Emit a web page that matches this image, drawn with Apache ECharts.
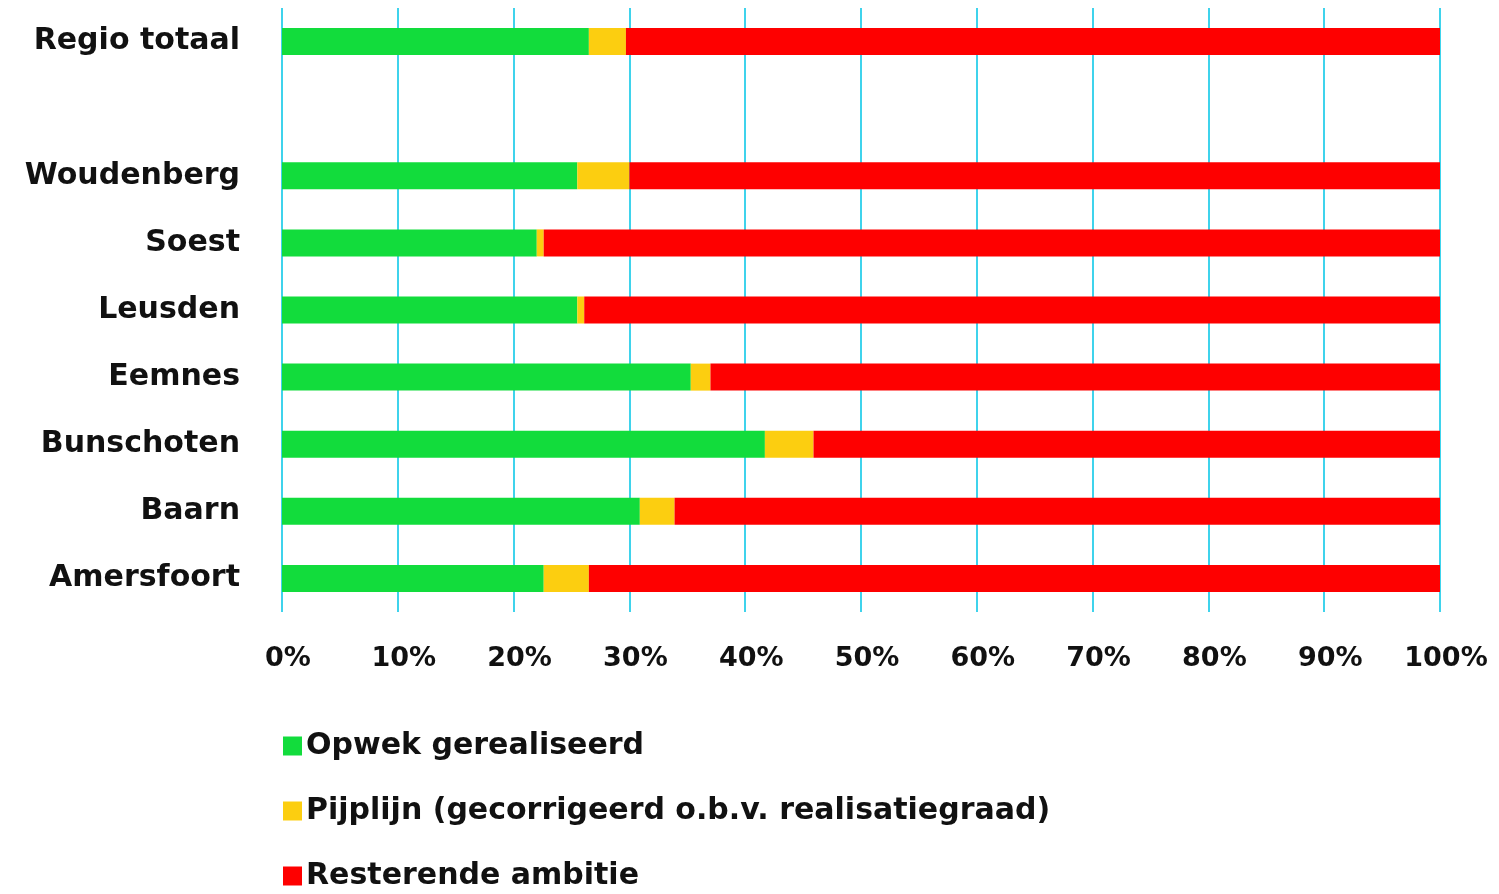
<!DOCTYPE html>
<html>
<head>
<meta charset="utf-8">
<script src="https://cdn.jsdelivr.net/npm/echarts@6/dist/echarts.min.js"></script>
<style>
  html, body { margin: 0; padding: 0; background: #fff; }
  #chart { width: 1499px; height: 894px; }
</style>
</head>
<body>
<div id="chart"></div>
<script>
// categories top to bottom (blank row separates the region total)
const categories = ["Regio totaal", "", "Woudenberg", "Soest", "Leusden", "Eemnes", "Bunschoten", "Baarn", "Amersfoort"];
const opwek     = [26.5, null, 25.5, 22.0, 25.5, 35.3, 41.7, 30.9, 22.6];
const pijplijn  = [3.2,  null, 4.5,  0.6,  0.6,  1.7,  4.2,  3.0,  3.9];
const resterend = [70.3, null, 70.0, 77.4, 73.9, 63.0, 54.1, 66.1, 73.5];
const seriesNames = ["Opwek gerealiseerd", "Pijplijn (gecorrigeerd o.b.v. realisatiegraad)", "Resterende ambitie"];
const colors = ["#12dc3c", "#fcce10", "#fe0000"];

const chart = echarts.init(document.getElementById("chart"));
const font = "'DejaVu Sans', sans-serif";

const mkSeries = (name, data, color) => ({
  name,
  type: "bar",
  stack: "total",
  data,
  barWidth: 27,
  itemStyle: { color },
  emphasis: { disabled: true },
});

chart.setOption({
  animation: false,
  textStyle: { fontFamily: font },
  grid: { left: 282, right: 59, top: 8, bottom: 282 },
  legend: {
    orient: "vertical",
    left: 278,
    top: 726,
    height: 200,
    itemGap: 35,
    itemWidth: 19,
    itemHeight: 19,
    icon: "rect",
    textStyle: { fontSize: 30, fontWeight: "bold", color: "#111", fontFamily: font, padding: [0, 0, 0, -1] },
    data: seriesNames,
  },
  xAxis: {
    type: "value",
    min: 0,
    max: 100,
    interval: 10,
    axisLine: { show: false },
    axisTick: { show: false },
    axisLabel: {
      formatter: "{value}%",
      fontSize: 27,
      fontWeight: "bold",
      color: "#111",
      margin: 33,
      padding: [0, 0, 0, 12],
    },
    splitLine: { show: true, lineStyle: { color: "#3fd3ec", width: 2 } },
  },
  yAxis: {
    type: "category",
    data: categories,
    inverse: true,
    axisLine: { show: false },
    axisTick: { show: false },
    axisLabel: {
      fontSize: 30,
      fontWeight: "bold",
      color: "#111",
      margin: 42,
    },
  },
  series: [
    mkSeries(seriesNames[0], opwek, colors[0]),
    mkSeries(seriesNames[1], pijplijn, colors[1]),
    mkSeries(seriesNames[2], resterend, colors[2]),
  ],
});
</script>
</body>
</html>
